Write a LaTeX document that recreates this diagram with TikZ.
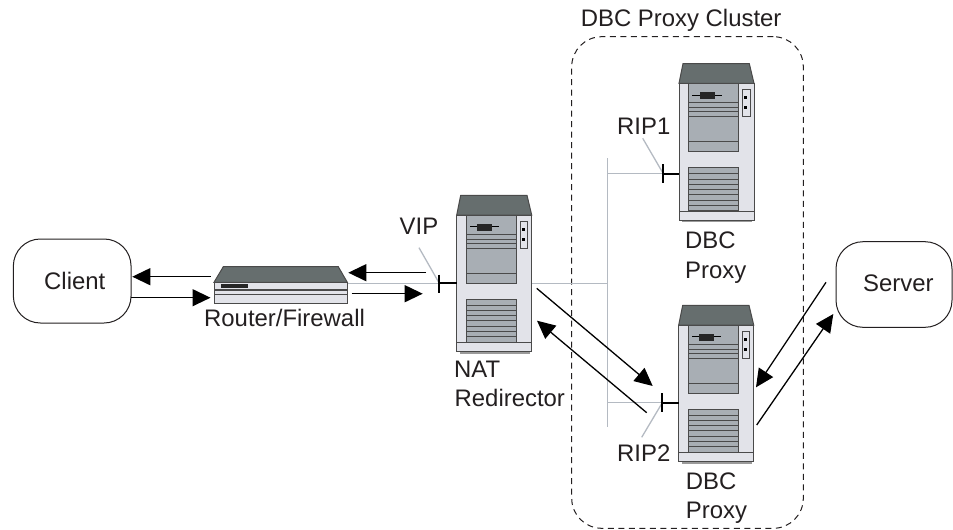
\documentclass[tikz,border=0pt]{standalone}
\usepackage{fontspec}
\setmainfont{Liberation Sans}
\usetikzlibrary{arrows.meta}
\definecolor{roofc}{HTML}{666E6E}
\definecolor{bodyc}{HTML}{E2E3E9}
\definecolor{panelc}{HTML}{A8AEB4}
\definecolor{edgec}{HTML}{4A4A4A}
\definecolor{wirec}{HTML}{B4BAC2}
\definecolor{shadowc}{HTML}{9A9A9A}
\definecolor{inkc}{HTML}{231F20}
\tikzset{
  lbl/.style={anchor=base west,inner sep=0pt,text=inkc,font=\fontsize{23.9}{24}\selectfont},
  wire/.style={draw=wirec,line width=1.3pt},
  flow/.style={draw=black,line width=1.3pt,-{Triangle[length=18pt,width=17pt]}},
  tbar/.style={draw=black,line width=2.2pt},
  cloudbox/.style={draw=inkc,line width=1pt,rounded corners=27pt,fill=white},
  edge1/.style={draw=edgec,line width=1pt},
  serverbox/.pic={
    \fill[shadowc] (3,136) rectangle (73,139);
    \filldraw[fill=roofc,edge1] (0,0) -- (4,-19.7) -- (70.3,-19.7) -- (75,0) -- cycle;
    \filldraw[fill=bodyc,edge1] (0,0) rectangle (75,136.7);
    \draw[edge1] (0,127.7) -- (75,127.7);
    \filldraw[fill=panelc,edge1] (9.3,0) rectangle (59.3,68);
    \foreach \yy in {19.3,24.3,28.3,33.3,58.3} \draw[edge1] (9.3,\yy) -- (59.3,\yy);
    \draw[draw=black,line width=1pt] (13.3,11.7) -- (42.6,11.7);
    \fill[black!85] (20.6,8.5) rectangle (35.6,15.5);
    \filldraw[fill=bodyc,edge1] (63.3,6.3) rectangle (71,33.3);
    \fill[black] (65.4,13) rectangle (68,15.6);
    \fill[black] (65.4,23) rectangle (68,25.6);
    \filldraw[fill=panelc,edge1] (9.3,84) rectangle (59.3,127.3);
    \foreach \yy in {90,95.7,100.7,105.7,111,116.7,121.7} \draw[edge1] (9.3,\yy) -- (59.3,\yy);
  }
}
\begin{document}
\begin{tikzpicture}[x=1pt,y=-1pt]
\useasboundingbox (0,0) rectangle (953,530);
% cluster
\node[draw=inkc,line width=1pt,dash pattern=on 6pt off 4.5pt,rounded corners=30pt,minimum width=231.6pt,minimum height=491.6pt,inner sep=0pt] (cluster) at (687.5,282.5) {};
% free connector ends
\coordinate (vipA) at (439.3,283.3);
\coordinate (vipL) at (419,247.7);
\coordinate (rip1A) at (663.3,173.7);
\coordinate (rip1L) at (642.7,138.3);
\coordinate (rip2A) at (662.3,402.7);
\coordinate (rip2L) at (641.7,437.3);
\coordinate (busT) at (607.7,158);
\coordinate (busB) at (607.7,426.7);
\coordinate (busN) at (607.7,283.3);
\coordinate (bus1) at (607.7,173.7);
\coordinate (bus2) at (607.7,402.7);
\coordinate (natR) at (531.7,283.3);
\coordinate (natL) at (456.7,283.3);
\coordinate (rtR) at (347.3,283.3);
\coordinate (s1L) at (679,173.7);
\coordinate (s2L) at (678.7,402.7);
% wires
\draw[wire] (rtR) -- (vipA);
\draw[wire] (vipL) -- (vipA);
\draw[wire] (natR) -- (busN);
\draw[wire] (busT) -- (busB);
\draw[wire] (bus1) -- (rip1A);
\draw[wire] (bus2) -- (rip2A);
\draw[wire] (rip1L) -- (rip1A);
\draw[wire] (rip2L) -- (rip2A);
% servers
\pic at (456.7,215) {serverbox};
\pic at (679,83.3) {serverbox};
\pic at (678.7,325) {serverbox};
% t-bars
\draw[tbar] (439.3,274.5) -- (439.3,292.7);
\draw[tbar] (vipA) -- (natL);
\draw[tbar] (663.3,164.3) -- (663.3,183.3);
\draw[tbar] (rip1A) -- (s1L);
\draw[tbar] (662.3,393.3) -- (662.3,411.7);
\draw[tbar] (rip2A) -- (s2L);
% router
\filldraw[fill=roofc,edge1] (214,282.3) -- (223.3,266.7) -- (338.3,266.7) -- (347.3,282.3) -- cycle;
\filldraw[fill=bodyc,edge1] (214,282.3) rectangle (347.3,303.3);
\fill[black!85] (221,284) rectangle (247.7,288);
\draw[draw=edgec,line width=1.6pt] (214,290) -- (347.3,290);
\draw[draw=edgec,line width=1pt] (214,294.3) -- (347.3,294.3);
% end boxes
\node[cloudbox,minimum width=117.7pt,minimum height=84pt,inner sep=0pt] (client) at (72.2,281) {};
\node[cloudbox,minimum width=116pt,minimum height=85.6pt,inner sep=0pt] (server) at (894,284.5) {};
% flow arrows
\coordinate (c1a) at (210.7,276.7); \coordinate (c1b) at (132.3,276.7);
\coordinate (c2a) at (131,297.7); \coordinate (c2b) at (210.5,297.7);
\coordinate (r1a) at (426,272.7); \coordinate (r1b) at (348.3,272.7);
\coordinate (r2a) at (351.7,293.7); \coordinate (r2b) at (422.7,293.7);
\coordinate (n1a) at (536.7,288.3); \coordinate (n1b) at (652.7,386);
\coordinate (n2a) at (646.7,412.7); \coordinate (n2b) at (537,320.7);
\coordinate (s1a) at (826,282.3); \coordinate (s1b) at (756,387.3);
\coordinate (s2a) at (756.7,425); \coordinate (s2b) at (833.3,314);
\draw[flow] (c1a) -- (c1b);
\draw[flow] (c2a) -- (c2b);
\draw[flow] (r1a) -- (r1b);
\draw[flow] (r2a) -- (r2b);
\draw[flow] (n1a) -- (n1b);
\draw[flow] (n2a) -- (n2b);
\draw[flow] (s1a) -- (s1b);
\draw[flow] (s2a) -- (s2b);
% labels
\node[lbl] (t1) at (580.7,26) {DBC Proxy Cluster};
\node[lbl] (t2) at (44,289.5) {Client};
\node[lbl] (t3) at (863,291) {Server};
\node[lbl] (t4) at (204,326.7) {Router/Firewall};
\node[lbl] (t5) at (399.5,234.5) {VIP};
\node[lbl] (t6) at (454,377.7) {NAT};
\node[lbl] (t7) at (454.5,406.7) {Redirector};
\node[lbl] (t8) at (617,134.3) {RIP1};
\node[lbl] (t9) at (617,461) {RIP2};
\node[lbl] (t10) at (685,248.3) {DBC};
\node[lbl] (t11) at (685,278.3) {Proxy};
\node[lbl] (t12) at (685.7,489) {DBC};
\node[lbl] (t13) at (685.7,518) {Proxy};
\end{tikzpicture}
\end{document}
